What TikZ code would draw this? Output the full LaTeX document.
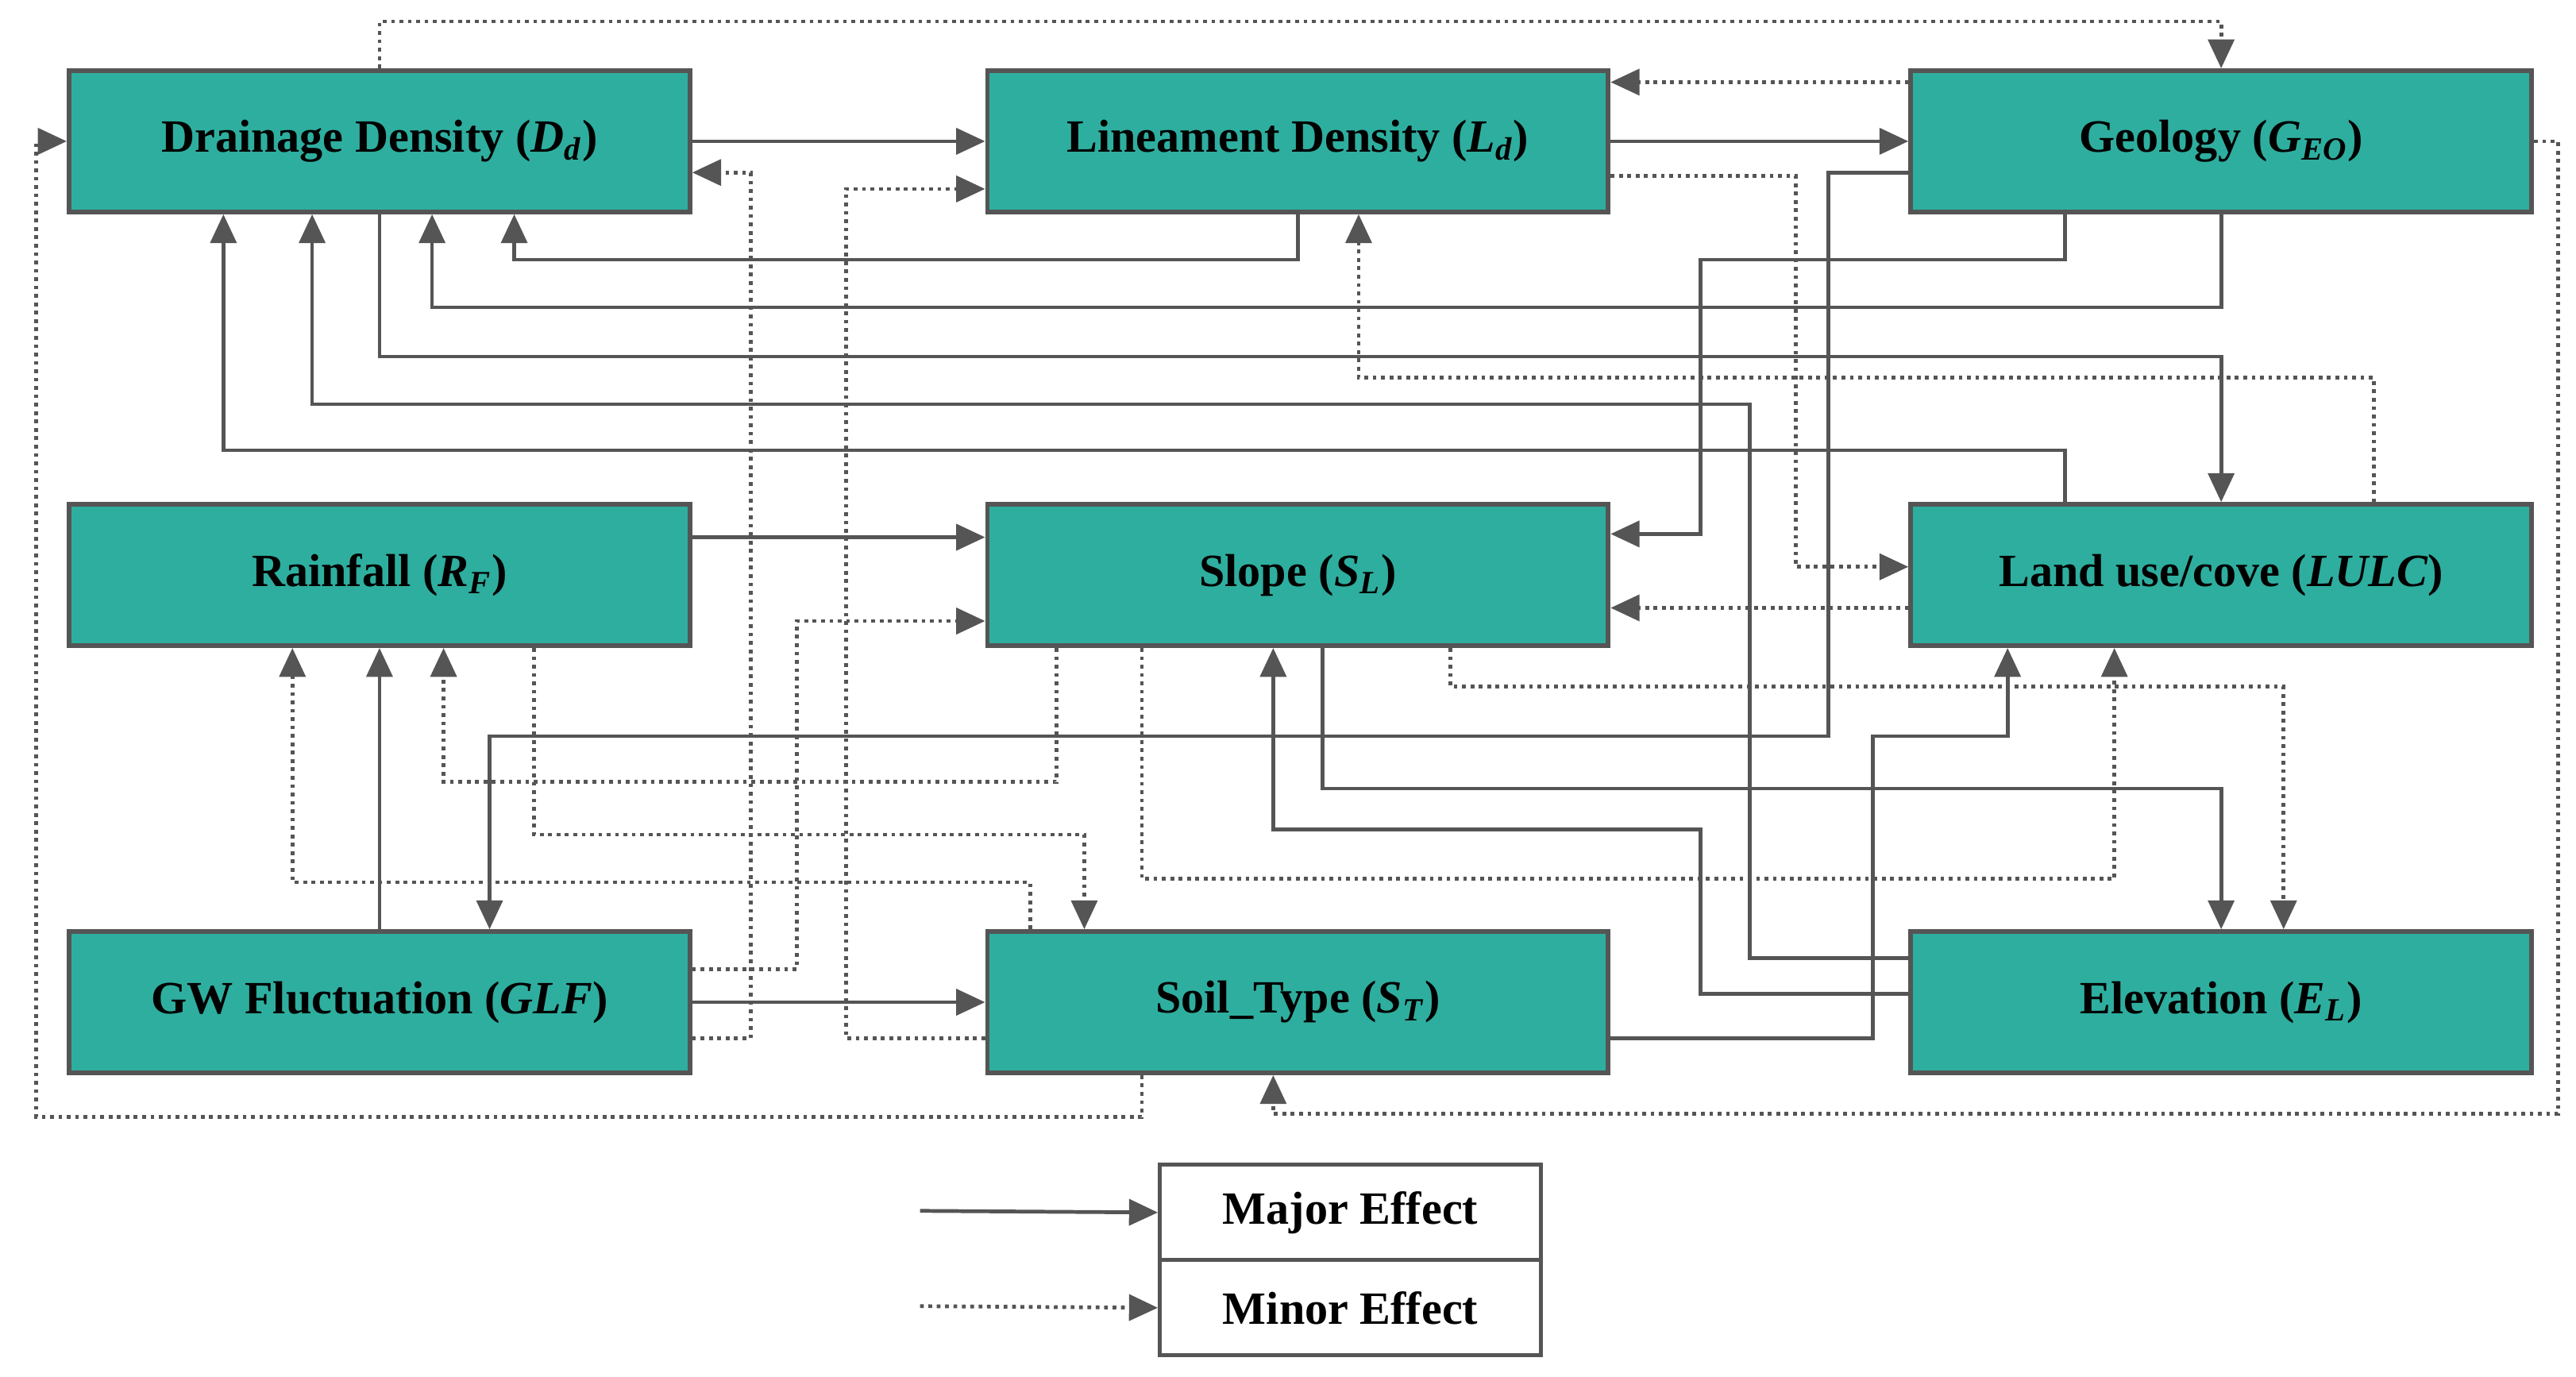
\documentclass[tikz,border=0pt]{standalone}
\usepackage{fontspec}
\setmainfont{Liberation Serif}
\usetikzlibrary{arrows.meta}
\definecolor{boxf}{HTML}{2EAE9F}
\definecolor{ln}{HTML}{555555}
\newcommand{\vsym}[2]{\textit{#1}\textsubscript{\textit{#2}}}
\begin{document}
\begin{tikzpicture}[x=0.02cm,y=-0.02cm,
  box/.style={draw=ln,line width=1.6pt,fill=boxf,minimum width=7.56cm,minimum height=1.72cm,inner sep=0pt,font=\fontsize{16}{19}\selectfont\bfseries},
  lg/.style={draw=ln,line width=1.4pt,fill=white,minimum width=4.64cm,minimum height=1.16cm,inner sep=0pt,font=\fontsize{16}{19}\selectfont\bfseries},
  maj/.style={draw=ln,line width=1.3pt,-{Triangle[length=10pt,width=9pt]}},
  mnr/.style={draw=ln,line width=1.3pt,dash pattern=on 1.3pt off 1.6pt,-{Triangle[length=10pt,width=9pt]}}]
\useasboundingbox (0,0) rectangle (1568,838);
\node[box] (dd) at (231,86) {Drainage Density (\vsym{D}{d})};
\node[box] (ld) at (790,86) {Lineament Density (\vsym{L}{d})};
\node[box] (ge) at (1352,86) {Geology (\vsym{G}{EO})};
\node[box] (rf) at (231,350) {Rainfall (\vsym{R}{F})};
\node[box] (sl) at (790,350) {Slope (\vsym{S}{L})};
\node[box] (lu) at (1352,350) {Land use/cove (\textit{LULC})};
\node[box] (gw) at (231,610) {GW Fluctuation (\textit{GLF})};
\node[box] (st) at (790,610) {Soil\_Type (\vsym{S}{T})};
\node[box] (el) at (1352,610) {Elevation (\vsym{E}{L})};
\node[lg] (l1) at (822,738) {Major Effect};
\node[lg] (l2) at (822,796) {Minor Effect};
\coordinate (a1) at (560,737);
\coordinate (a2) at (560,795);
\draw[maj] (a1) -- (l1.west);
\draw[mnr] (a2) -- (l2.west);
% solid
\draw[maj] (dd.east) -- (ld.west);
\draw[maj] (ld.east) -- (ge.west);
\draw[maj] (ld.south) -- (790,158) -- (313,158) -- (313,0 |- dd.south);
\draw[maj] (ge.south) -- (1352,187) -- (263,187) -- (263,0 |- dd.south);
\draw[maj] (dd.south) -- (231,217) -- (1352,217) -- (lu.north);
\draw[maj] (el.west |- 0,583) -- (1065,583) -- (1065,246) -- (190,246) -- (190,0 |- dd.south);
\draw[maj] (1257,0 |- lu.north) -- (1257,274) -- (136,274) -- (136,0 |- dd.south);
\draw[maj] (1257,0 |- ge.south) -- (1257,158) -- (1035,158) -- (1035,325) -- (sl.east |- 0,325);
\draw[maj] (ge.west |- 0,105) -- (1113,105) -- (1113,448) -- (298,448) -- (298,0 |- gw.north);
\draw[maj] (rf.east |- 0,327) -- (sl.west |- 0,327);
\draw[maj] (gw.north) -- (rf.south);
\draw[maj] (gw.east) -- (st.west);
\draw[maj] (el.west |- 0,605) -- (1035,605) -- (1035,505) -- (775,505) -- (775,0 |- sl.south);
\draw[maj] (805,0 |- sl.south) -- (805,480) -- (1352,480) -- (el.north);
\draw[maj] (st.east |- 0,632) -- (1140,632) -- (1140,448) -- (1222,448) -- (1222,0 |- lu.south);
% dotted
\draw[mnr] (dd.north) -- (231,13) -- (1352,13) -- (ge.north);
\draw[mnr] (ge.west |- 0,50) -- (ld.east |- 0,50);
\draw[mnr] (ge.east) -- (1557,86) -- (1557,678) -- (775,678) -- (775,0 |- st.south);
\draw[mnr] (695,0 |- st.south) -- (695,680) -- (22,680) -- (22,86) -- (dd.west);
\draw[mnr] (gw.east |- 0,632) -- (457,632) -- (457,105) -- (dd.east |- 0,105);
\draw[mnr] (st.west |- 0,632) -- (515,632) -- (515,115) -- (ld.west |- 0,115);
\draw[mnr] (ld.east |- 0,107) -- (1093,107) -- (1093,345) -- (lu.west |- 0,345);
\draw[mnr] (1445,0 |- lu.north) -- (1445,230) -- (827,230) -- (827,0 |- ld.south);
\draw[mnr] (lu.west |- 0,370) -- (sl.east |- 0,370);
\draw[mnr] (gw.east |- 0,590) -- (485,590) -- (485,378) -- (sl.west |- 0,378);
\draw[mnr] (643,0 |- sl.south) -- (643,476) -- (270,476) -- (270,0 |- rf.south);
\draw[mnr] (325,0 |- rf.south) -- (325,508) -- (660,508) -- (660,0 |- st.north);
\draw[mnr] (627,0 |- st.north) -- (627,537) -- (178,537) -- (178,0 |- rf.south);
\draw[mnr] (695,0 |- sl.south) -- (695,535) -- (1287,535) -- (1287,0 |- lu.south);
\draw[mnr] (883,0 |- sl.south) -- (883,418) -- (1390,418) -- (1390,0 |- el.north);
\end{tikzpicture}
\end{document}
